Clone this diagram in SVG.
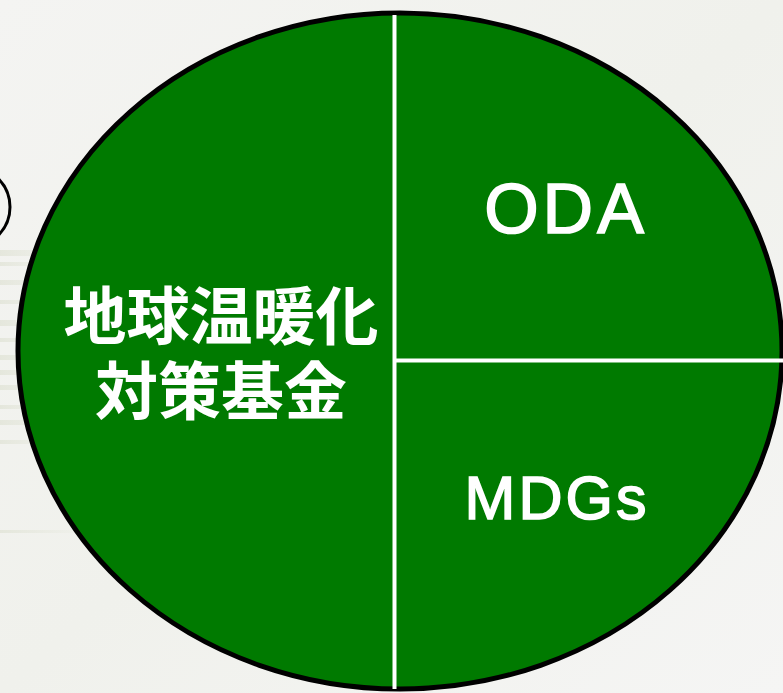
<svg xmlns="http://www.w3.org/2000/svg" width="783" height="693" viewBox="0 0 783 693">
  <defs>
    <linearGradient id="bg" x1="0" y1="0" x2="1" y2="1">
      <stop offset="0" stop-color="#f4f4f2"/>
      <stop offset="0.5" stop-color="#f0f1ec"/>
      <stop offset="1" stop-color="#f5f5f4"/>
    </linearGradient>
    <linearGradient id="stripe" x1="0" y1="0" x2="1" y2="0">
      <stop offset="0" stop-color="#dfe2d4" stop-opacity="0.7"/>
      <stop offset="1" stop-color="#dfe2d4" stop-opacity="0"/>
    </linearGradient>
    <style>
      .pie { fill: #007a00; stroke: #000; stroke-width: 5; }
      .div { stroke: #ffffff; stroke-width: 4; }
      .jp { font-family: "Noto Sans CJK JP", "Noto Sans", sans-serif; font-weight: 700; font-size: 63px; fill: #fff; text-anchor: middle; }
      .en { font-family: "Liberation Sans", Arial, sans-serif; fill: #fff; stroke: #fff; stroke-width: 1.6; text-anchor: middle; }
    </style>
  </defs>
  <rect x="0" y="0" width="783" height="693" fill="url(#bg)"/>
  <g id="background-stripes">
    <rect x="0" y="250" width="70" height="6" fill="url(#stripe)"/>
    <rect x="0" y="262" width="60" height="4" fill="url(#stripe)"/>
    <rect x="0" y="280" width="70" height="5" fill="url(#stripe)"/>
    <rect x="0" y="300" width="60" height="4" fill="url(#stripe)"/>
    <rect x="0" y="320" width="70" height="6" fill="url(#stripe)"/>
    <rect x="0" y="338" width="60" height="4" fill="url(#stripe)"/>
    <rect x="0" y="355" width="70" height="5" fill="url(#stripe)"/>
    <rect x="0" y="370" width="60" height="5" fill="url(#stripe)"/>
    <rect x="0" y="385" width="70" height="5" fill="url(#stripe)"/>
    <rect x="0" y="405" width="60" height="4" fill="url(#stripe)"/>
    <rect x="0" y="420" width="70" height="5" fill="url(#stripe)"/>
    <rect x="0" y="440" width="60" height="4" fill="url(#stripe)"/>
    <rect x="0" y="530" width="90" height="3" fill="url(#stripe)"/>
  </g>
  <g id="side-circle">
    <circle cx="-30" cy="207" r="40" fill="none" stroke="#000" stroke-width="3"/>
  </g>
  <g id="pie">
    <ellipse class="pie" cx="400" cy="351" rx="382" ry="338"/>
  </g>
  <g id="connectors">
    <line class="div" x1="394.5" y1="15" x2="394.5" y2="689"/>
    <line class="div" x1="396" y1="360.5" x2="783" y2="360.5"/>
  </g>
  <g id="fund">
    <text class="jp"><tspan x="221" y="339">地球温暖化</tspan><tspan x="221" y="414">対策基金</tspan></text>
  </g>
  <g id="oda">
    <text class="en" x="566" y="233" font-size="70" letter-spacing="4">ODA</text>
  </g>
  <g id="mdgs">
    <text class="en" x="557" y="519" font-size="61" letter-spacing="3">MDGs</text>
  </g>
</svg>
